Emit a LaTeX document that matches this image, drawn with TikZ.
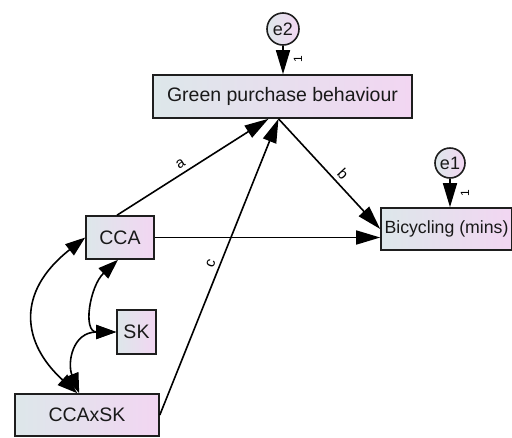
\documentclass[tikz,border=0pt]{standalone}
\usepackage{fontspec}
\setmainfont{Liberation Sans}
\usetikzlibrary{arrows.meta}
\definecolor{boxL}{RGB}{221,231,234}
\definecolor{boxR}{RGB}{242,214,242}
\definecolor{edge}{RGB}{30,30,30}
\tikzset{
  varbox/.style={draw=edge, line width=1.6pt, left color=boxL, right color=boxR,
    inner sep=0pt, text=black!90, font=\fontsize{19.5}{22}\selectfont},
  errc/.style={circle, draw=edge, line width=1.6pt, left color=boxL, right color=boxR,
    inner sep=0pt, text=black!90, font=\fontsize{18}{20}\selectfont},
  path/.style={line width=1.6pt, -{Triangle[length=24pt,width=14pt]}},
  cov/.style={line width=1.6pt, {Triangle[length=20pt,width=14pt]}-{Triangle[length=20pt,width=14pt]}},
  lab/.style={font=\fontsize{15}{17}\selectfont, inner sep=4pt},
  one/.style={font=\fontsize{12}{13}\selectfont, inner sep=0pt}
}
\begin{document}
\begin{tikzpicture}[x=1pt, y=-1pt]
\useasboundingbox (0,0) rectangle (512,437);
\node[varbox, minimum width=259pt, minimum height=43pt] (gpb) at (282.5,96.5) {Green purchase behaviour};
\node[varbox, minimum width=131pt, minimum height=42pt, font=\fontsize{17.7}{20}\selectfont] (bic) at (446.5,229) {Bicycling (mins)};
\node[varbox, minimum width=68pt, minimum height=43pt] (cca) at (120,237.5) {CCA};
\node[varbox, minimum width=39pt, minimum height=44pt] (sk) at (136.5,332) {SK};
\node[varbox, minimum width=144pt, minimum height=42pt] (ccaxsk) at (87,415) {CCAxSK};
\node[errc, minimum size=32pt] (e2) at (283,29) {e2};
\node[errc, minimum size=30pt] (e1) at (450,163) {e1};
% error arrows
\draw[path] (e2.south) -- (e2.south |- gpb.north);
\draw[path] (e1.south) -- (e1.south |- bic.north);
\node[one, rotate=90] (one2) at (298,59) {1};
\node[one, rotate=90] (one1) at (465,193) {1};
% structural paths
\draw[path] ([xshift=-3pt]cca.north) -- node[lab, sloped, above, pos=0.45] (la) {a} ([xshift=-14pt]gpb.south);
\draw[path] (ccaxsk.east) -- node[lab, sloped, above, pos=0.5] (lc) {c} ([xshift=-4pt]gpb.south);
\draw[path] ([xshift=-4pt]gpb.south) -- node[lab, sloped, above, pos=0.56] (lb) {b} (bic.west);
\draw[path] (cca.east) -- (cca.east -| bic.west);
% covariances
\draw[cov] (cca.west) .. controls +(-70,55) and +(-55,-50) .. ([xshift=63pt]ccaxsk.north west);
\draw[cov] ([xshift=-2pt]cca.south) .. controls +(-28,26) and +(-34,0) .. (sk.west);
\draw[cov] (sk.west) .. controls +(-44,0) and +(-12,-30) .. ([xshift=65pt]ccaxsk.north west);
\end{tikzpicture}
\end{document}
